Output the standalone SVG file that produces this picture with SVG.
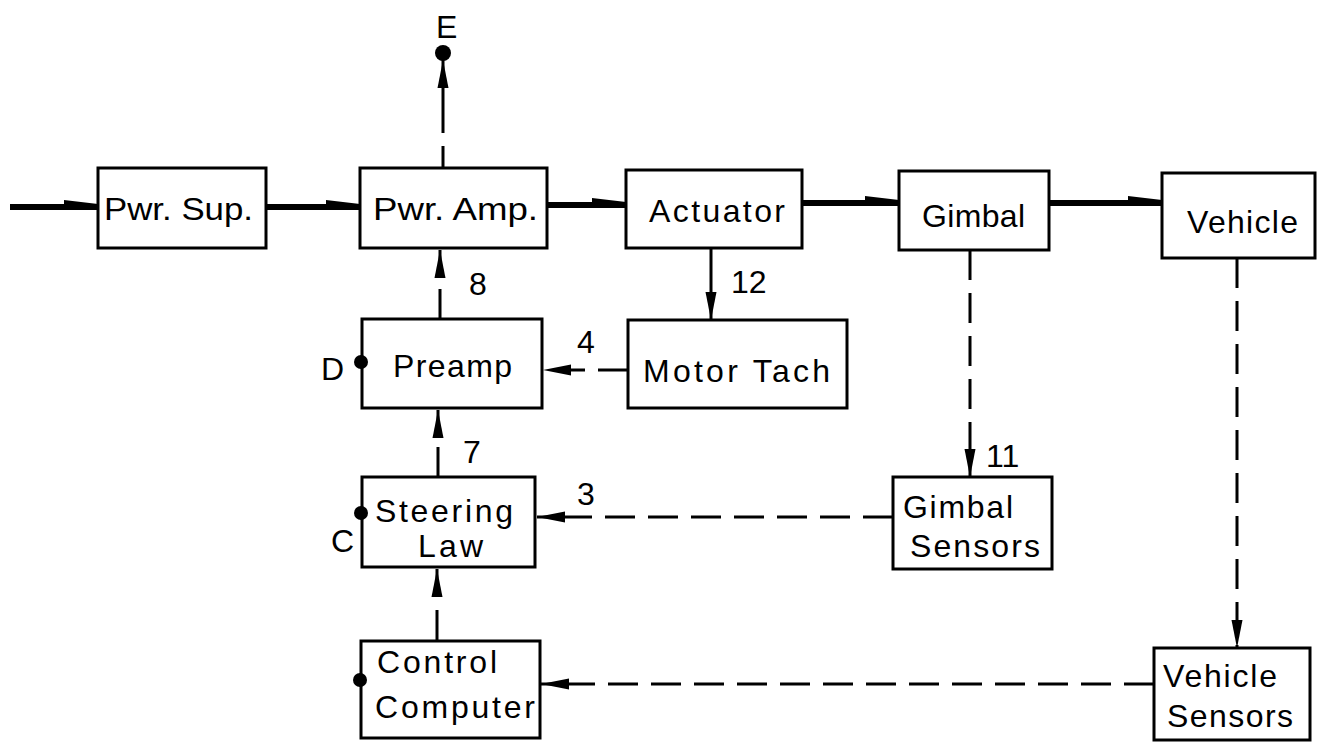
<svg xmlns="http://www.w3.org/2000/svg" width="1317" height="748" viewBox="0 0 1317 748">
<style>
.box{fill:#fff;stroke:#000;stroke-width:3}
.lbl{font-family:"Liberation Sans",Arial,sans-serif;font-size:32px;fill:#000}
.num{font-family:"Liberation Sans",Arial,sans-serif;font-size:32px;fill:#000}
.thick{stroke:#000;stroke-width:6;fill:none}
.dash{stroke:#000;stroke-width:3;fill:none;stroke-dasharray:30 13}
.solid{stroke:#000;stroke-width:3;fill:none}
.dot{fill:#000}
.wedge{fill:#000}
</style>
<defs>
<marker id="ah" markerUnits="userSpaceOnUse" markerWidth="30" markerHeight="14" refX="28" refY="7" orient="auto">
<path d="M0,1.5 L28,7 L0,12.5 z" fill="#000"/>
</marker>
</defs>
<rect width="1317" height="748" fill="#fff"/>
<g id="connectors">
<line class="thick" x1="10" y1="207" x2="98" y2="207"/>
<polygon class="wedge" points="64,200 98,204 98,209 64,209"/>
<line class="thick" x1="266" y1="207" x2="360" y2="207"/>
<polygon class="wedge" points="326,200 360,204 360,209 326,209"/>
<line class="thick" x1="547" y1="205" x2="626" y2="205"/>
<polygon class="wedge" points="592,198 626,202 626,207 592,207"/>
<line class="thick" x1="802" y1="203" x2="899" y2="203"/>
<polygon class="wedge" points="865,196 899,200 899,205 865,205"/>
<line class="thick" x1="1049" y1="203" x2="1162" y2="203"/>
<polygon class="wedge" points="1128,196 1162,200 1162,205 1128,205"/>
<line class="solid" x1="443" y1="167" x2="443" y2="146"/>
<line class="solid" x1="443" y1="133" x2="443" y2="60" marker-end="url(#ah)"/>
<line class="dash" x1="440" y1="319" x2="440" y2="250" marker-end="url(#ah)"/>
<line class="solid" x1="711" y1="248" x2="711" y2="320" marker-end="url(#ah)"/>
<line class="dash" x1="628" y1="370" x2="543" y2="370" marker-end="url(#ah)"/>
<line class="dash" x1="438" y1="477" x2="438" y2="410" marker-end="url(#ah)"/>
<line class="dash" x1="970" y1="250" x2="970" y2="477" marker-end="url(#ah)"/>
<line class="dash" x1="893" y1="517" x2="537" y2="517" marker-end="url(#ah)"/>
<line class="solid" x1="437" y1="641" x2="437" y2="610"/>
<line class="solid" x1="437" y1="596" x2="437" y2="569" marker-end="url(#ah)"/>
<line class="dash" x1="1237" y1="258" x2="1237" y2="648" marker-end="url(#ah)"/>
<line class="dash" x1="1154" y1="684" x2="541" y2="684" marker-end="url(#ah)"/>
<circle class="dot" cx="443" cy="53" r="8"/>
</g>
<g id="pwr-sup"><rect class="box" x="98" y="168" width="168" height="80"/><text class="lbl" x="104" y="220" textLength="149" lengthAdjust="spacingAndGlyphs">Pwr. Sup.</text></g>
<g id="pwr-amp"><rect class="box" x="360" y="168" width="187" height="80"/><text class="lbl" x="373" y="220" textLength="165" lengthAdjust="spacingAndGlyphs">Pwr. Amp.</text></g>
<g id="actuator"><rect class="box" x="626" y="170" width="176" height="78"/><text class="lbl" x="649" y="222" textLength="136" lengthAdjust="spacing">Actuator</text></g>
<g id="gimbal"><rect class="box" x="899" y="171" width="150" height="79"/><text class="lbl" x="922" y="227" textLength="103" lengthAdjust="spacing">Gimbal</text></g>
<g id="vehicle"><rect class="box" x="1162" y="173" width="153" height="85"/><text class="lbl" x="1187" y="233" textLength="111" lengthAdjust="spacing">Vehicle</text></g>
<g id="preamp"><rect class="box" x="362" y="319" width="180" height="89"/><text class="lbl" x="393" y="377" textLength="119" lengthAdjust="spacing">Preamp</text><circle class="dot" cx="361" cy="362" r="7"/><text class="lbl" x="321" y="380">D</text></g>
<g id="motor-tach"><rect class="box" x="628" y="320" width="219" height="88"/><text class="lbl" x="643" y="382" textLength="187" lengthAdjust="spacing">Motor Tach</text></g>
<g id="steering-law"><rect class="box" x="362" y="477" width="173" height="90"/><text class="lbl" x="375" y="522" textLength="138" lengthAdjust="spacing">Steering</text><text class="lbl" x="418" y="557" textLength="65" lengthAdjust="spacing">Law</text><circle class="dot" cx="361" cy="513" r="7"/><text class="lbl" x="331" y="552">C</text></g>
<g id="gimbal-sensors"><rect class="box" x="893" y="477" width="159" height="92"/><text class="lbl" x="903" y="518" textLength="110" lengthAdjust="spacing">Gimbal</text><text class="lbl" x="910" y="557" textLength="130" lengthAdjust="spacing">Sensors</text></g>
<g id="control-computer"><rect class="box" x="361" y="641" width="179" height="97"/><text class="lbl" x="377" y="673" textLength="120" lengthAdjust="spacing">Control</text><text class="lbl" x="375" y="718" textLength="160" lengthAdjust="spacing">Computer</text><circle class="dot" cx="360" cy="680" r="7"/></g>
<g id="vehicle-sensors"><rect class="box" x="1154" y="648" width="156" height="92"/><text class="lbl" x="1163" y="687" textLength="114" lengthAdjust="spacing">Vehicle</text><text class="lbl" x="1167" y="727" textLength="126" lengthAdjust="spacing">Sensors</text></g>
<g id="labels">
<text class="lbl" x="436" y="38">E</text>
<text class="num" x="469" y="295">8</text>
<text class="num" x="731" y="293">12</text>
<text class="num" x="577" y="353">4</text>
<text class="num" x="463" y="463">7</text>
<text class="num" x="577" y="505">3</text>
<text class="num" x="986" y="467">11</text>
</g>
</svg>
